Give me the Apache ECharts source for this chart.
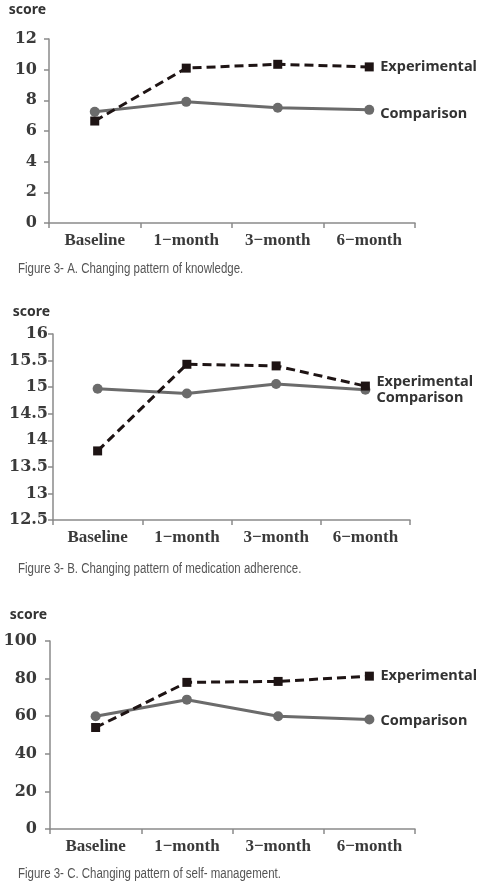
<!DOCTYPE html>
<html><head><meta charset="utf-8">
<script src="https://cdn.jsdelivr.net/npm/echarts@6/dist/echarts.min.js"></script>
<style>html,body{margin:0;padding:0;background:#fff}#c{width:488px;height:891px}</style>
</head><body><div id="c"></div>
<script>
var categories = ['Baseline', '1\u2212month', '3\u2212month', '6\u2212month'];
var knowledgeExp = [6.65, 10.1, 10.35, 10.18];
var knowledgeComp = [7.25, 7.9, 7.52, 7.38];
var adherenceExp = [13.8, 15.43, 15.4, 15.02];
var adherenceComp = [14.97, 14.88, 15.06, 14.95];
var selfExp = [54.0, 78.0, 78.5, 81.3];
var selfComp = [60.0, 68.8, 60.0, 58.2];
var captions = ['Figure 3- A. Changing pattern of knowledge.', 'Figure 3- B. Changing pattern of medication adherence.', 'Figure 3- C. Changing pattern of self- management.'];

var axisColor = '#8a8a8a';
var catFont = {fontFamily: 'Liberation Serif', fontWeight: 'bold', fontSize: 17, color: '#3a3a3a'};
var valFont = {fontFamily: 'DejaVu Serif', fontWeight: 'bold', fontSize: 16, color: '#3a3a3a'};
var grids = [
  {left: 49, top: 39, width: 366, height: 184},
  {left: 53, top: 334, width: 357, height: 186},
  {left: 50, top: 641, width: 365, height: 188}
];
var yDefs = [
  {min: 0, max: 12, interval: 2, gap: 22, margin: 12},
  {min: 12.5, max: 16, interval: 0.5, gap: 15, margin: 5},
  {min: 0, max: 100, interval: 20, gap: 19, margin: 13}
];
var xAxes = grids.map(function (g, i) {
  return {type: 'category', gridIndex: i, data: categories, boundaryGap: true,
    axisLine: {lineStyle: {color: axisColor, width: 1.5}},
    axisTick: {show: true, length: 5, lineStyle: {color: axisColor, width: 1.5}},
    axisLabel: Object.assign({margin: 9}, catFont)};
});
var yAxes = yDefs.map(function (d, i) {
  return {type: 'value', gridIndex: i, min: d.min, max: d.max, interval: d.interval,
    name: 'score', nameLocation: 'end', nameGap: d.gap,
    nameTextStyle: {align: 'right', padding: [0, 3, 0, 0], fontFamily: 'Noto Sans', fontWeight: 'bold', fontSize: 14, color: '#333'},
    splitLine: {show: false},
    axisLine: {show: true, lineStyle: {color: axisColor, width: 1.5}},
    axisTick: {show: true, length: 5, lineStyle: {color: axisColor, width: 1.5}},
    axisLabel: Object.assign({margin: d.margin}, valFont)};
});
var labelFont = {fontFamily: 'Noto Sans', fontWeight: 'bold', fontSize: 14.5, color: '#333'};
function compSeries(data, idx, dy) {
  return {name: 'Comparison', type: 'line', xAxisIndex: idx, yAxisIndex: idx, data: data,
    symbol: 'circle', symbolSize: 10, itemStyle: {color: '#6b6b6b'},
    lineStyle: {color: '#6b6b6b', width: 3}, z: 2,
    endLabel: Object.assign({show: true, formatter: '{a}', distance: 11, offset: [0, dy]}, labelFont)};
}
function expSeries(data, idx, dy) {
  return {name: 'Experimental', type: 'line', xAxisIndex: idx, yAxisIndex: idx, data: data,
    symbol: 'rect', symbolSize: 9, itemStyle: {color: '#1e1414'},
    lineStyle: {color: '#1e1414', width: 3, type: [9, 5]}, z: 3,
    endLabel: Object.assign({show: true, formatter: '{a}', distance: 11, offset: [0, dy]}, labelFont)};
}
var capTops = [262, 562, 867];
var option = {
  animation: false,
  grid: grids,
  xAxis: xAxes,
  yAxis: yAxes,
  series: [
    compSeries(knowledgeComp, 0, 4), expSeries(knowledgeExp, 0, 0),
    compSeries(adherenceComp, 1, 8), expSeries(adherenceExp, 1, -4),
    compSeries(selfComp, 2, 1), expSeries(selfExp, 2, 0)
  ],
  graphic: captions.map(function (t, i) {
    return {type: 'text', left: 18, top: capTops[i], scaleX: 0.82,
      style: {text: t, fontFamily: 'Liberation Sans', fontSize: 14, fill: '#555'}};
  })
};
var chart = echarts.init(document.getElementById('c'));
chart.setOption(option);
</script></body></html>
